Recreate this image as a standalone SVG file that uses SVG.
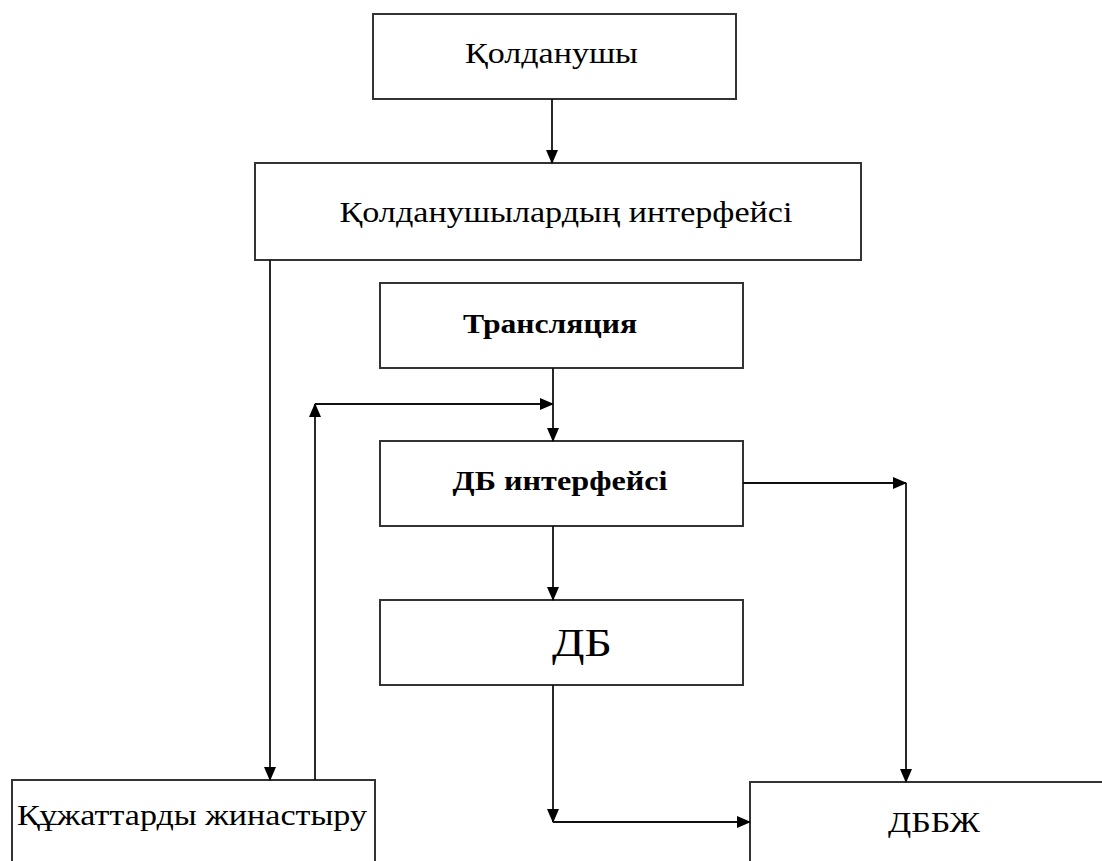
<svg xmlns="http://www.w3.org/2000/svg" width="1102" height="861" viewBox="0 0 1102 861">
<defs>
<marker id="ah" markerWidth="14" markerHeight="14" refX="13" refY="6" orient="auto" markerUnits="userSpaceOnUse" viewBox="0 0 14 12">
<path d="M0,0 L14,6 L0,12 Z" fill="#000"/>
</marker>
</defs>
<style>
.box{fill:#fff;stroke:#333;stroke-width:2}
.lbl{font-family:"Liberation Serif","Times New Roman",serif;font-size:30px;fill:#000;text-anchor:middle}
.b{font-weight:bold;font-size:28px}
.con{fill:none;stroke:#111;stroke-width:1.8;marker-end:url(#ah)}
</style>
<rect width="1102" height="861" fill="#fff"/>
<g id="n1"><rect class="box" x="373" y="14" width="363" height="85"/><text class="lbl" x="551.5" y="63" textLength="173" lengthAdjust="spacingAndGlyphs">Қолданушы</text></g>
<g id="n2"><rect class="box" x="255" y="163" width="606" height="97"/><text class="lbl" x="566" y="222" textLength="453" lengthAdjust="spacingAndGlyphs">Қолданушылардың интерфейсі</text></g>
<g id="n3"><rect class="box" x="380" y="283" width="363" height="85"/><text class="lbl b" x="550" y="333" textLength="174" lengthAdjust="spacingAndGlyphs">Трансляция</text></g>
<g id="n4"><rect class="box" x="380" y="441" width="363" height="85"/><text class="lbl b" x="560" y="490" textLength="215" lengthAdjust="spacingAndGlyphs">ДБ интерфейсі</text></g>
<g id="n5"><rect class="box" x="380" y="600" width="363" height="85"/><text class="lbl" x="582" y="656" style="font-size:40px" textLength="60" lengthAdjust="spacingAndGlyphs">ДБ</text></g>
<g id="n6"><rect class="box" x="12" y="780" width="363" height="100"/><text class="lbl" x="192" y="825" textLength="350" lengthAdjust="spacingAndGlyphs">Құжаттарды жинастыру</text></g>
<g id="n7"><rect class="box" x="750" y="782" width="380" height="100"/><text class="lbl" x="934" y="832" textLength="92" lengthAdjust="spacingAndGlyphs">ДББЖ</text></g>
<g id="connectors">
<path class="con" d="M552,99 L552,163"/>
<path class="con" d="M270,260 L270,780"/>
<path class="con" d="M315,780 L315,404"/>
<path class="con" d="M315,404 L553,404"/>
<path class="con" d="M553,368 L553,441"/>
<path class="con" d="M553,526 L553,600"/>
<path class="con" d="M743,483 L906,483"/>
<path class="con" d="M906,483 L906,782"/>
<path class="con" d="M553,685 L553,822"/>
<path class="con" d="M553,822 L750,822"/>
</g>
</svg>
